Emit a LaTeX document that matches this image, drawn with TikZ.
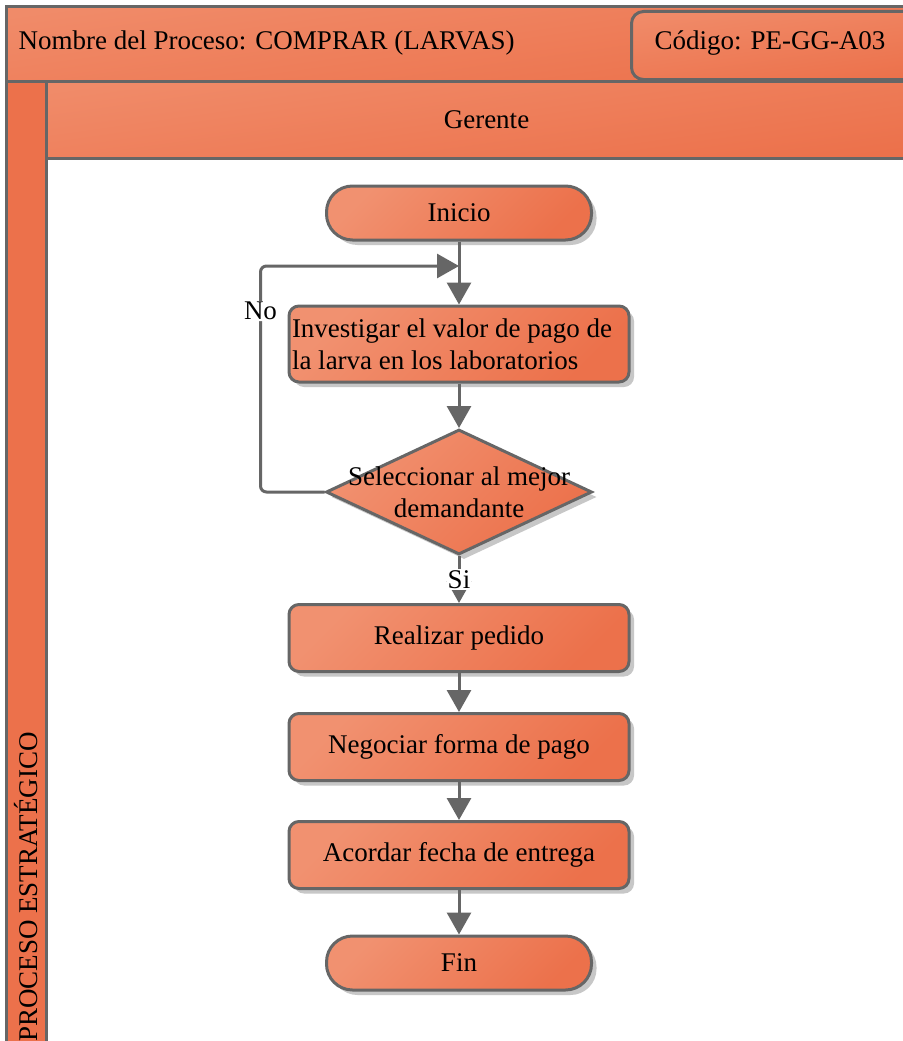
\documentclass[tikz,border=0pt]{standalone}
\usepackage{fontspec}
\setmainfont{Liberation Serif}
\usetikzlibrary{shapes.geometric, arrows.meta, shadows}
\definecolor{salmonL}{RGB}{241,145,112}
\definecolor{salmonD}{RGB}{236,113,75}
\definecolor{linegray}{RGB}{102,102,102}

\begin{document}
\begin{tikzpicture}[
        x=1pt,
        y=-1pt,
        >={Triangle[length=22pt, width=24pt]},
        every node/.style={font=\fontsize{27}{32}\selectfont},
        paint/.style={top color=salmonL, bottom color=salmonD, shading angle=45},
        bandpaint/.style={top color=salmonL!80!salmonD, bottom color=salmonD, shading angle=8},
        frame/.style={paint, draw=linegray, line width=3pt},
        bandframe/.style={bandpaint, draw=linegray, line width=3pt},
        softshadow/.style={drop shadow={shadow xshift=5pt, shadow yshift=-5pt, fill=black!22, opacity=1}},
        proc/.style={frame, softshadow, rounded corners=10pt, minimum width=340pt, minimum height=67pt, inner sep=3pt},
        term/.style={frame, softshadow, rounded corners=26pt, minimum width=265pt, minimum height=54pt},
        decision/.style={frame, softshadow, diamond, minimum width=266pt, minimum height=125pt, inner sep=0pt},
        flow/.style={->, draw=linegray, line width=3pt},
        tag/.style={fill=white, inner sep=1pt}
    ]
    \useasboundingbox (0,0) rectangle (902,1041);

    \node[bandframe, anchor=north west, minimum width=920pt, minimum height=75pt] (head) at (5,5) {};
    \node[anchor=west] (pname) at (15,43) {Nombre del Proceso: COMPRAR (LARVAS)};
    \node[bandframe, drop shadow={shadow xshift=3pt, shadow yshift=-3pt, fill=black!30, opacity=1}, rounded corners=12pt, anchor=north west, minimum width=300pt, minimum height=68pt] (code) at (630,10) {};
    \node (pcode) at (770,43) {Código: PE-GG-A03};

    \node[draw=linegray, line width=3pt, fill=salmonD, anchor=north west, minimum width=40pt, minimum height=980pt] (band) at (5,80) {};
    \node[rotate=90] (bandname) at (26,887) {PROCESO ESTRATÉGICO};
    \node[bandframe, anchor=north west, minimum width=880pt, minimum height=77pt] (role) at (45,80) {Gerente};
    \node[draw=linegray, line width=3pt, fill=white, anchor=north west, minimum width=885pt, minimum height=900pt] (lane) at (45,157) {};

    \node[term] (inicio) at (459,213) {Inicio};
    \node[proc, minimum height=76pt, text width=334pt, align=flush left] (inv) at (459,344) {Investigar el valor de pago de\\la larva en los laboratorios};
    \node[decision, label={[align=center]center:Seleccionar al mejor\\demandante}] (sel) at (459,492) {};
    \node[proc] (ped) at (459,638) {Realizar pedido};
    \node[proc] (neg) at (459,747) {Negociar forma de pago};
    \node[proc] (acu) at (459,855) {Acordar fecha de entrega};
    \node[term] (fin) at (459,963) {Fin};

    \coordinate (back) at (459,266);

    \draw[flow] (inicio) -- (inv);
    \draw[flow] (inv) -- (sel);
    \draw[flow] (sel) -- node[tag]{Si} (ped);
    \draw[flow] (ped) -- (neg);
    \draw[flow] (neg) -- (acu);
    \draw[flow] (acu) -- (fin);
    \draw[flow, rounded corners=6pt] (sel.west) -- ++(-64,0) |- node[tag, pos=0.4]{No} (back);
\end{tikzpicture}
\end{document}
